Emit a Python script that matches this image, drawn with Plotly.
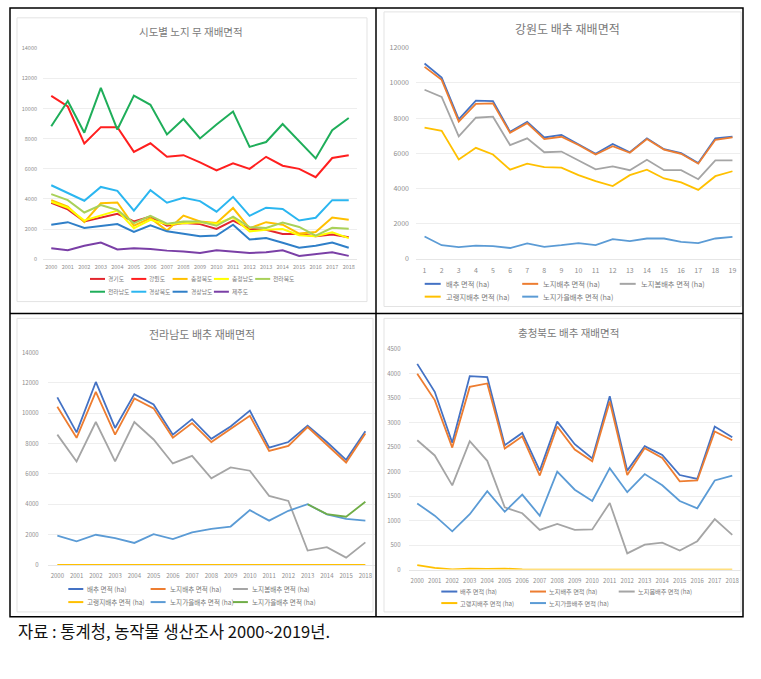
import plotly.graph_objects as go

W, H = 761, 679
FONT = "Noto Sans CJK KR"

# ---------------- data ----------------
years = ['2000', '2001', '2002', '2003', '2004', '2005', '2006', '2007', '2008', '2009',
         '2010', '2011', '2012', '2013', '2014', '2015', '2016', '2017', '2018']
idx19 = ['1', '2', '3', '4', '5', '6', '7', '8', '9', '10',
         '11', '12', '13', '14', '15', '16', '17', '18', '19']
years_jn = ['2000', '2001', '2002', '2003', '2004', '2005', '2006', '2007', '2008', '2009',
            '2010', '2011', '2012', '2013', '2014', '2015', '2018']

# panel 1: 시도별 노지 무 재배면적
regions = ['경기도', '강원도', '충청북도', '충청남도', '전라북도', '전라남도', '경상북도', '경상남도', '제주도']
gyeonggi = [3750, 3310, 2510, 2770, 3010, 2510, 2830, 2220, 2400, 2330, 2010, 2570, 2010, 1960, 1680, 1680, 1530, 1640, 1460]
gangwon = [10840, 10140, 7680, 8770, 8770, 7130, 7700, 6800, 6910, 6430, 5890, 6370, 6000, 6800, 6210, 6000, 5450, 6720, 6910]
chungbuk = [3920, 3490, 2460, 3710, 3770, 2220, 2730, 1900, 2900, 2510, 2400, 3400, 2050, 2460, 2290, 1700, 1810, 2770, 2620]
chungnam = [3820, 3420, 2570, 2900, 3230, 2050, 2620, 2330, 2400, 2460, 2360, 2770, 1850, 1960, 2010, 1590, 1530, 1790, 1400]
jeonbuk = [4320, 3920, 3100, 3600, 3270, 2400, 2880, 2360, 2510, 2510, 2220, 2830, 2140, 2070, 2440, 2140, 1570, 2090, 2030]
jeonnam = [8830, 10510, 8400, 11380, 8610, 10860, 10250, 8290, 9310, 8020, 8940, 9810, 7460, 7780, 8980, 7850, 6690, 8570, 9380]
gyeongbuk = [4910, 4400, 3880, 4800, 4540, 3230, 4580, 3750, 4080, 3860, 3160, 4140, 2880, 3420, 3340, 2570, 2750, 3920, 3920]
gyeongnam = [2290, 2460, 2070, 2180, 2330, 1810, 2250, 1850, 1680, 1530, 1570, 2290, 1310, 1400, 1090, 760, 890, 1110, 760]
jeju = [720, 590, 890, 1110, 650, 720, 680, 570, 520, 410, 590, 500, 410, 460, 590, 220, 330, 460, 220]

# panel 2: 강원도 배추 재배면적
gw_total = [11100, 10300, 7930, 8990, 8960, 7220, 7780, 6900, 7050, 6530, 5970, 6530, 6060, 6850, 6230, 6010, 5450, 6850, 6940]
gw_open = [10910, 10170, 7800, 8810, 8840, 7160, 7710, 6810, 6940, 6470, 5930, 6400, 6030, 6810, 6210, 5970, 5410, 6770, 6900]
gw_spring = [9610, 9200, 6960, 8020, 8080, 6470, 6850, 6060, 6100, 5600, 5090, 5260, 5040, 5630, 5040, 5040, 4530, 5600, 5600]
gw_highland = [7460, 7280, 5650, 6310, 5930, 5070, 5410, 5220, 5190, 4760, 4420, 4140, 4760, 5070, 4570, 4350, 3920, 4700, 4980]
gw_autumn = [1270, 780, 670, 750, 730, 620, 880, 690, 780, 900, 780, 1120, 1010, 1160, 1160, 970, 900, 1160, 1250]

# panel 3: 전라남도 배추 재배면적
jn_total = [11040, 8740, 12060, 9030, 11260, 10580, 8590, 9610, 8310, 9130, 10170, 7730, 8100, 9180, 8100, 6930, 8810]
jn_open = [10430, 8380, 11410, 8590, 10970, 10320, 8380, 9350, 8100, 8960, 9830, 7510, 7840, 9090, 7940, 6750, 8660]
jn_spring = [8590, 6820, 9420, 6820, 9420, 8270, 6690, 7190, 5710, 6430, 6210, 4550, 4220, 950, 1170, 480, 1490]
jn_highland = [0, 0, 0, 0, 0, 0, 0, 0, 0, 0, 0, 0, 0, 0, 0, 0, 0]
jn_autumn = [1930, 1560, 1990, 1770, 1450, 2030, 1710, 2140, 2380, 2530, 3610, 2920, 3570, 4000, 3330, 3030, 2920]
jn_autumn2 = [None, None, None, None, None, None, None, None, None, None, None, None, None, 4000, 3350, 3180, 4160]

# panel 4: 충청북도 배추 재배면적
cb_total = [4200, 3630, 2590, 3950, 3930, 2540, 2790, 2020, 3020, 2560, 2270, 3540, 2020, 2520, 2340, 1930, 1850, 2920, 2700]
cb_open = [3997, 3460, 2490, 3730, 3800, 2470, 2720, 1920, 2920, 2450, 2210, 3430, 1930, 2480, 2280, 1800, 1820, 2820, 2640]
cb_spring = [2640, 2330, 1720, 2620, 2220, 1270, 1150, 810, 930, 810, 820, 1360, 330, 510, 550, 390, 580, 1030, 710]
cb_highland = [90, 35, 5, 20, 15, 20, 5, 0, 5, 5, 0, 0, 0, 0, 0, 0, 0, 0, 0]
cb_autumn = [1350, 1100, 780, 1130, 1600, 1180, 1530, 1100, 2000, 1630, 1400, 2070, 1580, 1950, 1720, 1400, 1250, 1820, 1920]

cab_names3 = ['배추 면적 (ha)', '노지배추 면적 (ha)', '노지봄배추 면적 (ha)', '고랭지배추 면적 (ha)',
              '노지가을배추 면적 (ha)', '노지가을배추 면적 (ha)']

titles = ['시도별 노지 무 재배면적', '강원도 배추 재배면적', '전라남도 배추 재배면적', '충청북도 배추 재배면적']
caption = '자료 : 통계청, 농작물 생산조사 2000~2019년.'

# ---------------- styles ----------------
region_colors = ['#e2262e', '#ff1f1f', '#ffc000', '#ffff00', '#a9d15a', '#1fae5a', '#2bb6f0', '#2f7fc8', '#7a3fa6']
cab_colors = ['#4472c4', '#ed7d31', '#a5a5a5', '#ffc000', '#5b9bd5', '#70ad47']


def fx(px):
    return px / W


def fy(py):
    return 1 - py / H


panels = [
    dict(cats=years, series=[gyeonggi, gangwon, chungbuk, chungnam, jeonbuk, jeonnam, gyeongbuk, gyeongnam, jeju],
         names=regions, colors=region_colors, lw=2.0,
         x=(43, 357), y=(257, 43), ymax=14000, dtick=2000, tfont=5.5, xstand=2, ystand=5,
         title_xy=(190.5, 26), tsize=10.5,
         leg=dict(x0=90, dx=41.3, ncol=5, rows=(277, 290), slen=15, toff=16, fs=5.8),
         box=(17, 12, 367, 300)),
    dict(cats=idx19, series=[gw_total, gw_open, gw_spring, gw_highland, gw_autumn],
         names=cab_names3[:5], colors=cab_colors[:5], lw=1.8,
         x=(416, 741), y=(256.7, 42.3), ymax=12000, dtick=2000, tfont=7, xstand=5, ystand=6,
         title_xy=(567, 23), tsize=12,
         leg=dict(x0=424.7, dx=97.5, ncol=3, rows=(282, 295), slen=16, toff=19, fs=7.3),
         box=(384, 6, 741, 305)),
    dict(cats=years_jn, series=[jn_total, jn_open, jn_spring, jn_highland, jn_autumn, jn_autumn2],
         names=cab_names3, colors=cab_colors, lw=1.8,
         x=(47.7, 375), y=(567.3, 351.7), ymax=14000, dtick=2000, tfont=6, xstand=5, ystand=8,
         title_xy=(201.7, 333), tsize=11,
         leg=dict(x0=68.3, dx=82.3, ncol=3, rows=(591.7, 605), slen=15, toff=17, fs=6.6),
         box=(17, 317, 373, 615)),
    dict(cats=years, series=[cb_total, cb_open, cb_spring, cb_highland, cb_autumn],
         names=cab_names3[:5], colors=cab_colors[:5], lw=1.8,
         x=(408.5, 741), y=(572, 348.3), ymax=4500, dtick=500, tfont=6, xstand=5, ystand=7,
         title_xy=(568, 331), tsize=10.5,
         leg=dict(x0=441.3, dx=88.7, ncol=3, rows=(594.3, 606), slen=16, toff=17, fs=6.2),
         box=(384, 317, 741, 615)),
]

fig = go.Figure()
shapes = []
annotations = []
layout_axes = {}

TICK_COLOR = '#8e8e8e'
TEXT_COLOR = '#7a7a7a'

for i, p in enumerate(panels):
    n = i + 1
    xa = 'x' if n == 1 else f'x{n}'
    ya = 'y' if n == 1 else f'y{n}'
    xkey = 'xaxis' if n == 1 else f'xaxis{n}'
    ykey = 'yaxis' if n == 1 else f'yaxis{n}'
    # chart area border
    bx0, by0, bx1, by1 = p['box']
    shapes.append(dict(type='rect', xref='paper', yref='paper',
                       x0=fx(bx0), x1=fx(bx1), y0=fy(by1), y1=fy(by0),
                       line=dict(color='#e3e3e3', width=1), layer='below'))
    for s, name, col in zip(p['series'], p['names'], p['colors']):
        fig.add_trace(go.Scatter(x=p['cats'], y=s, mode='lines', name=name,
                                 line=dict(color=col, width=p['lw']),
                                 xaxis=xa, yaxis=ya, showlegend=False,
                                 connectgaps=False))
    ncat = len(p['cats'])
    layout_axes[xkey] = dict(type='category', categoryarray=p['cats'], categoryorder='array',
                             domain=[fx(p['x'][0]), fx(p['x'][1])], range=[-0.5, ncat - 0.5],
                             anchor=ya, showgrid=False, zeroline=False, showline=True,
                             linecolor='#e6e6e6', linewidth=1, ticks='',
                             ticklabelstandoff=p['xstand'],
                             tickfont=dict(family=FONT, size=p['tfont'], color=TICK_COLOR),
                             fixedrange=True)
    layout_axes[ykey] = dict(domain=[fy(p['y'][0]), fy(p['y'][1])], range=[0, p['ymax']],
                             dtick=p['dtick'], tick0=0, tickformat='d', anchor=xa, showgrid=True,
                             gridcolor='#eeeeee', gridwidth=1, zeroline=False, showline=False,
                             ticks='', ticklabelstandoff=p['ystand'],
                             tickfont=dict(family=FONT, size=p['tfont'], color=TICK_COLOR),
                             fixedrange=True)
    # title
    tx, ty = p['title_xy']
    annotations.append(dict(text=titles[i], x=fx(tx), y=fy(ty), xref='paper', yref='paper',
                            showarrow=False, xanchor='center', yanchor='middle',
                            font=dict(family=FONT, size=p['tsize'], color=TEXT_COLOR)))
    # legend (drawn as keys + labels)
    lg = p['leg']
    for k, (name, col) in enumerate(zip(p['names'], p['colors'])):
        r, c = divmod(k, lg['ncol'])
        x0 = lg['x0'] + c * lg['dx']
        yy = lg['rows'][r]
        shapes.append(dict(type='line', xref='paper', yref='paper',
                           x0=fx(x0), x1=fx(x0 + lg['slen']), y0=fy(yy), y1=fy(yy),
                           line=dict(color=col, width=2)))
        annotations.append(dict(text=name, x=fx(x0 + lg['toff']), y=fy(yy), xref='paper', yref='paper',
                                showarrow=False, xanchor='left', yanchor='middle',
                                font=dict(family=FONT, size=lg['fs'], color=TEXT_COLOR)))

# outer black frame
BL = dict(color='black', width=1.5)
shapes.append(dict(type='rect', xref='paper', yref='paper', x0=fx(10), x1=fx(743), y0=fy(620), y1=fy(2), line=BL))
shapes.append(dict(type='line', xref='paper', yref='paper', x0=fx(376), x1=fx(376), y0=fy(620), y1=fy(2), line=BL))
shapes.append(dict(type='line', xref='paper', yref='paper', x0=fx(10), x1=fx(743), y0=fy(312), y1=fy(312), line=BL))

annotations.append(dict(text=caption, x=fx(16), y=fy(634), xref='paper', yref='paper',
                        showarrow=False, xanchor='left', yanchor='middle',
                        font=dict(family=FONT, size=16.5, color='#111111')))

fig.update_layout(width=W, height=H, margin=dict(l=0, r=0, t=0, b=0),
                  paper_bgcolor='white', plot_bgcolor='rgba(0,0,0,0)',
                  showlegend=False, shapes=shapes, annotations=annotations,
                  hovermode=False,
                  font=dict(family=FONT), **layout_axes)

fig.write_html("out.html", config={'displayModeBar': False, 'staticPlot': True},
               post_script="document.body.style.margin='0';document.body.style.overflow='hidden';")
